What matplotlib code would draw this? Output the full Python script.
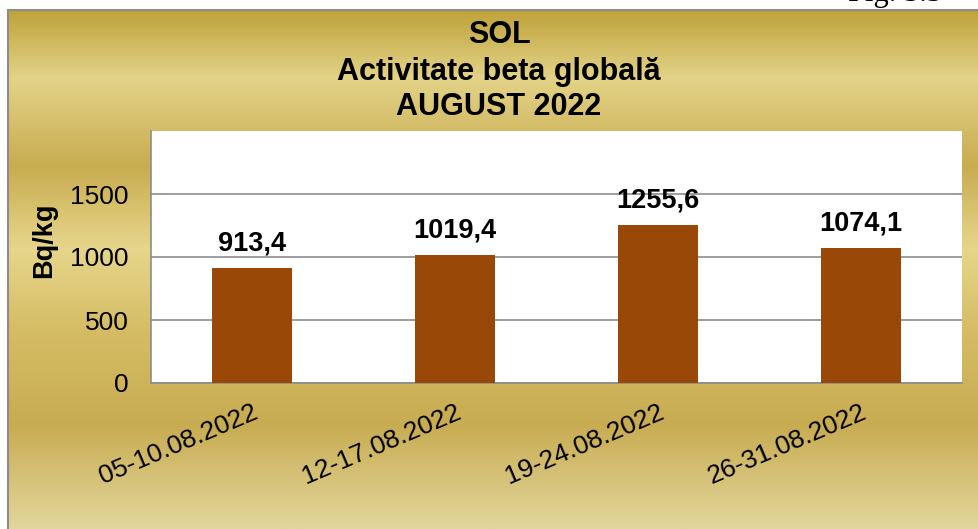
import numpy as np
import matplotlib.pyplot as plt
from matplotlib.colors import LinearSegmentedColormap

plt.rcParams['font.family'] = ['Liberation Sans', 'DejaVu Sans']

categories = ['05-10.08.2022', '12-17.08.2022', '19-24.08.2022', '26-31.08.2022']
values = [913.4, 1019.4, 1255.6, 1074.1]
labels = ['913,4', '1019,4', '1255,6', '1074,1']
yticks = [0, 500, 1000, 1500]

W, H = 979, 529
fig = plt.figure(figsize=(W / 100, H / 100), dpi=100)
fig.patch.set_facecolor('white')

# caption fragment cut off at the top of the picture (hidden behind the gold)
fig.text(942 / W, 1 - 1 / H, 'Fig. 5.3', family='Liberation Serif', fontsize=22,
         ha='right', va='baseline', color='black', zorder=-1)

# gold gradient background
bg = fig.add_axes([8 / W, 0, 1 - 8 / W, 519 / H])
gold = LinearSegmentedColormap.from_list('gold', [
    (0.00, '#bfa23a'), (0.13, '#e3d388'), (0.30, '#c8ac50'), (0.46, '#e6d68b'),
    (0.62, '#d5bc64'), (0.80, '#c8ac52'), (1.00, '#e2d69c')])
grad = np.linspace(0, 1, 256).reshape(-1, 1)
bg.imshow(grad, aspect='auto', cmap=gold, extent=[0, 1, 0, 1], origin='upper')
bg.set_xlim(0, 1)
bg.set_ylim(0, 1)
bg.set_xticks([])
bg.set_yticks([])
for s in ['right', 'bottom']:
    bg.spines[s].set_visible(False)
for s in ['left', 'top']:
    bg.spines[s].set_color('#8c8c8c')
    bg.spines[s].set_linewidth(1.5)
bg.set_zorder(0)

# plot area
ax = fig.add_axes([151 / W, 1 - 383 / H, (962 - 151) / W, (383 - 131) / H])
ax.set_zorder(1)
ax.set_facecolor('white')
x = np.arange(len(categories))
bars = ax.bar(x, values, width=0.395, color='#9a4807', zorder=3)
ax.set_xlim(-0.5, len(categories) - 0.5)
ax.set_ylim(0, 2000)
ax.set_yticks(yticks)
ax.set_yticklabels([str(t) for t in yticks], fontsize=19)
ax.yaxis.grid(True, color='#8c8c8c', linewidth=1.2, zorder=0)
ax.tick_params(axis='y', length=0, pad=16)
ax.tick_params(axis='x', length=0, pad=12)
ax.set_xticks(x)
ax.set_xticklabels(categories, fontsize=19, rotation=23, ha='right',
                   rotation_mode='anchor')
for s in ['top', 'right']:
    ax.spines[s].set_visible(False)
for s in ['left', 'bottom']:
    ax.spines[s].set_color('#8c8c8c')
    ax.spines[s].set_linewidth(1.2)

for b, t in zip(bars, labels):
    ax.annotate(t, (b.get_x() + b.get_width() / 2, b.get_height()),
                xytext=(0, 8), textcoords='offset points', ha='center',
                va='bottom', fontsize=19.5, fontweight='bold')

fig.text(44 / W, 1 - 240 / H, 'Bq/kg', rotation=90, ha='center', va='center',
         fontsize=19.5, fontweight='bold')

title_lines = ['SOL', 'Activitate beta globală', 'AUGUST 2022']
for line, base in zip(title_lines, [43, 80, 115]):
    fig.text(499 / W, 1 - base / H, line, ha='center', va='baseline',
             fontsize=22, fontweight='bold')

fig.savefig('out.png', dpi=100)
